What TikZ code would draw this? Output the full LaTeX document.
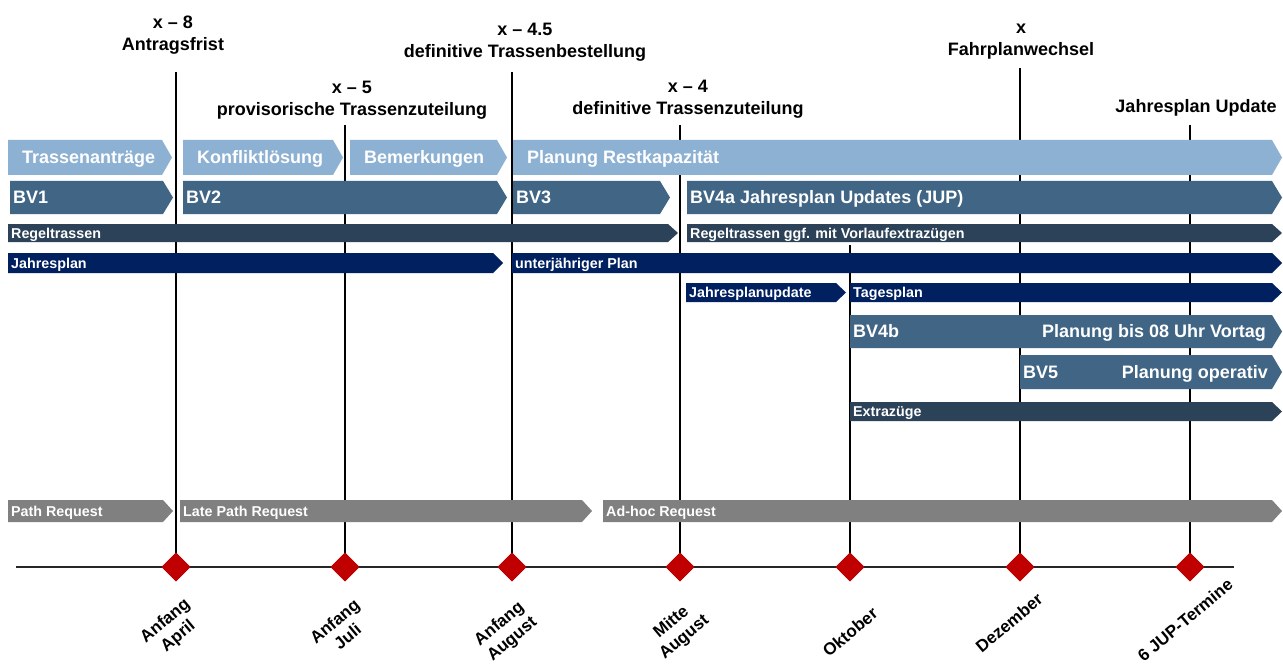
\documentclass[tikz,border=0pt]{standalone}
\usepackage{fontspec}
\setmainfont{Liberation Sans}
\usetikzlibrary{shapes.geometric}
\definecolor{lb}{HTML}{8DB1D2}
\definecolor{bv}{HTML}{406585}
\definecolor{slate}{HTML}{2C4258}
\definecolor{navy}{RGB}{0,32,96}
\definecolor{gr}{RGB}{128,128,128}
\definecolor{msred}{RGB}{192,0,0}
\tikzset{
  phase/.style={font=\bfseries\fontsize{18}{20}\selectfont, text=white, inner sep=0pt, anchor=west, text height=12.9pt, text depth=0pt, xshift=14pt},
  bvlab/.style={font=\bfseries\fontsize{18}{20}\selectfont, text=white, inner sep=0pt, anchor=west, text height=12.9pt, text depth=0pt, xshift=3pt},
  bvright/.style={font=\bfseries\fontsize{18}{20}\selectfont, text=white, inner sep=0pt, anchor=east, text height=12.9pt, text depth=0pt},
  small/.style={font=\bfseries\fontsize{14.3}{16}\selectfont, text=white, inner sep=0pt, anchor=west, text height=10pt, text depth=0pt, xshift=3pt},
  toplab/.style={font=\bfseries\fontsize{18}{22}\selectfont, align=center, inner sep=0pt},
  botlab/.style={font=\bfseries\fontsize{17}{20}\selectfont, align=center, inner sep=0pt, rotate=40},
  mstone/.style={diamond, fill=msred, minimum size=29pt, inner sep=0pt},
  vline/.style={line width=1.2pt, black},
  axis/.style={line width=1.5pt, black!85},
}
% name, x1, x2, ytop, ybot, colour, label style, text
\newcommand{\chev}[8]{%
  \fill[#6] (#2,#4) -- ({#3-10},#4) -- (#3,{(#4+#5)/2}) -- ({#3-10},#5) -- (#2,#5) -- cycle;
  \node[#7] (#1) at (#2,{(#4+#5)/2}) {#8};
}
\begin{document}
\begin{tikzpicture}[x=1pt,y=-1pt]
\useasboundingbox[fill=white] (0,0) rectangle (1283,666);

% milestones and vertical lines
\coordinate (t1) at (176,72);
\coordinate (t2) at (345,125);
\coordinate (t3) at (512,72);
\coordinate (t4) at (680,125);
\coordinate (t5) at (850,245);
\coordinate (t6) at (1020,68);
\coordinate (t7) at (1190,125);
\coordinate (axL) at (16,567);
\coordinate (axR) at (1234,567);
\node[mstone] (m1) at (176,567) {};
\node[mstone] (m2) at (345,567) {};
\node[mstone] (m3) at (512,567) {};
\node[mstone] (m4) at (680,567) {};
\node[mstone] (m5) at (850,567) {};
\node[mstone] (m6) at (1020,567) {};
\node[mstone] (m7) at (1190,567) {};
\foreach \i in {1,...,7} {\draw[vline] (t\i) -- (m\i.center);}

% top labels
\node[toplab] (l1) at (173,35) {x – 8\\Antragsfrist};
\node[toplab] (l2) at (352,100) {x – 5\\provisorische Trassenzuteilung};
\node[toplab] (l3) at (525,42) {x – 4.5\\definitive Trassenbestellung};
\node[toplab] (l4) at (688,99) {x – 4\\definitive Trassenzuteilung};
\node[toplab] (l5) at (1021,42) {x\\Fahrplanwechsel};
\node[toplab] (l6) at (1196,108) {Jahresplan Update};

% row 1
\chev{a1}{8}{172}{140}{175}{lb}{phase}{Trassenanträge}
\chev{a2}{183}{343}{140}{175}{lb}{phase}{Konfliktlösung}
\chev{a3}{350}{507}{140}{175}{lb}{phase}{Bemerkungen}
\chev{a4}{513}{1282}{140}{175}{lb}{phase}{Planung Restkapazität}
% row 2
\chev{b1}{10}{173}{181}{214}{bv}{bvlab}{BV1}
\chev{b2}{183}{507}{181}{214}{bv}{bvlab}{BV2}
\chev{b3}{513}{670}{181}{214}{bv}{bvlab}{BV3}
\chev{b4}{687}{1282}{181}{214}{bv}{bvlab}{BV4a Jahresplan Updates (JUP)}
% row 3
\chev{c1}{8}{678}{224}{242}{slate}{small}{Regeltrassen}
\chev{c2}{687}{1282}{224}{242}{slate}{small}{Regeltrassen ggf. mit Vorlaufextrazügen}
% row 4
\chev{d1}{8}{503}{253}{273}{navy}{small}{Jahresplan}
\chev{d2}{512}{1282}{253}{273}{navy}{small}{unterjähriger Plan}
% row 5
\chev{e1}{686}{846}{283}{302}{navy}{small}{Jahresplanupdate}
\chev{e2}{850}{1282}{283}{302}{navy}{small}{Tagesplan}
% row 6
\chev{f1}{850}{1282}{315}{348}{bv}{bvlab}{BV4b}
\node[bvright] (f2) at (1266,331.5) {Planung bis 08 Uhr Vortag};
% row 7
\chev{g1}{1020}{1282}{355}{389}{bv}{bvlab}{BV5}
\node[bvright] (g2) at (1268,372) {Planung operativ};
% row 8
\chev{h1}{850}{1282}{402}{421}{slate}{small}{Extrazüge}
% row 9
\chev{p1}{8}{173}{500}{522}{gr}{small}{Path Request}
\chev{p2}{180}{592}{500}{522}{gr}{small}{Late Path Request}
\chev{p3}{603}{1282}{500}{522}{gr}{small}{Ad-hoc Request}

% axis
\draw[axis] (axL) -- (axR);
\foreach \i in {1,...,7} {\node[mstone] at (m\i) {};}

% bottom labels
\node[botlab] (n1) at (172,629) {Anfang\\April};
\node[botlab] (n2) at (341,629) {Anfang\\Juli};
\node[botlab] (n3) at (506,632) {Anfang\\August};
\node[botlab] (n4) at (678,630) {Mitte\\August};
\node[botlab] (n5) at (850,632) {Oktober};
\node[botlab] (n6) at (1009,623) {Dezember};
\node[botlab] (n7) at (1185,620) {6 JUP-Termine};
\end{tikzpicture}
\end{document}
